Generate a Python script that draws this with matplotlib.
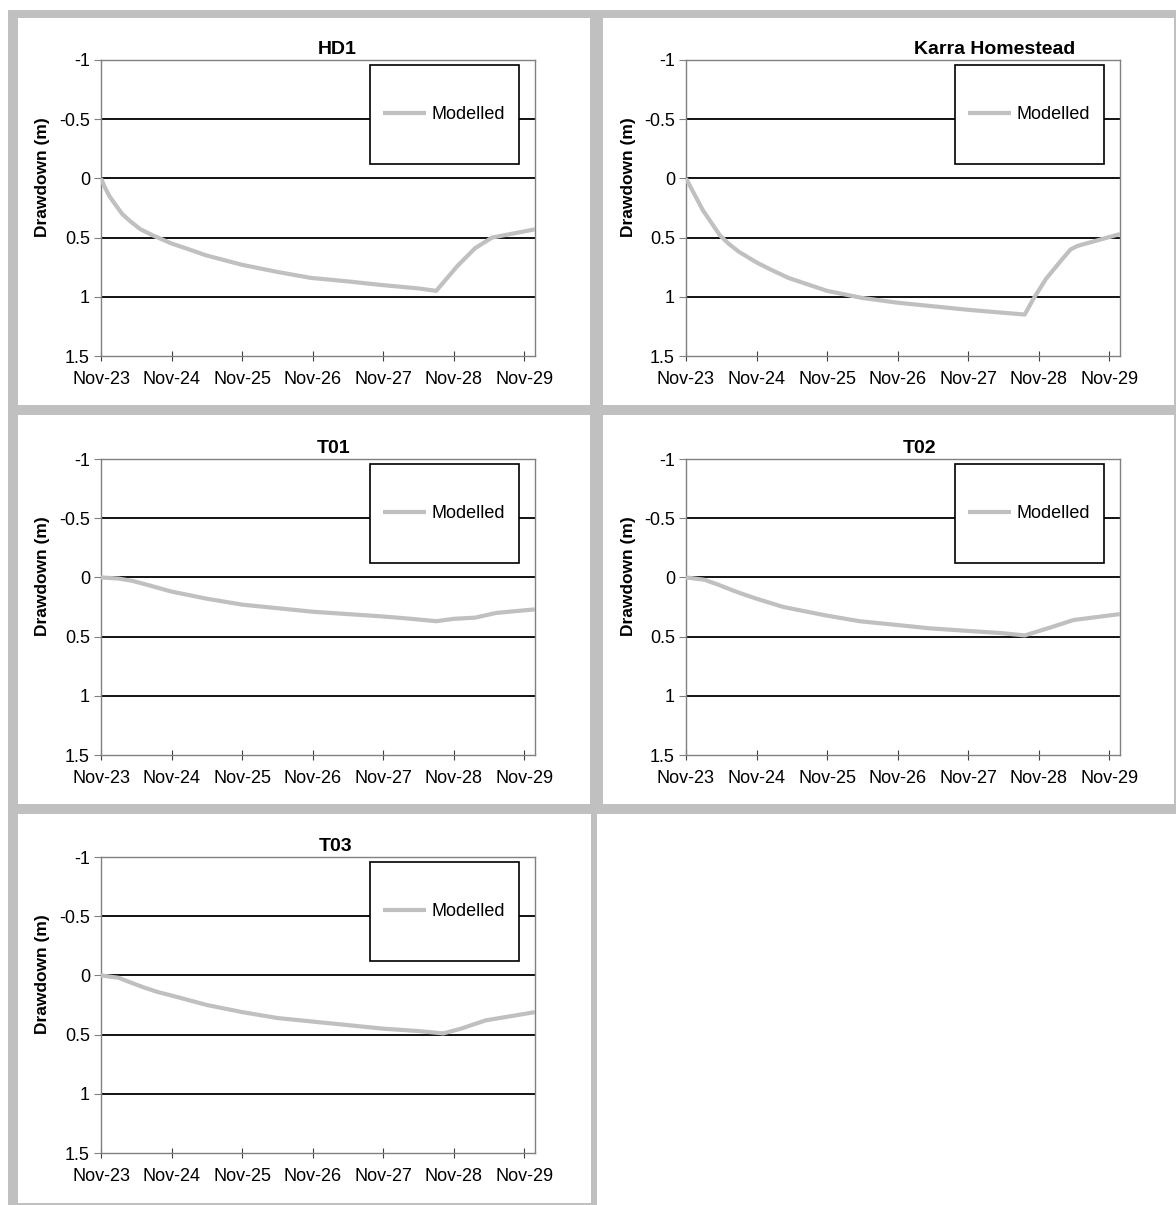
import matplotlib
matplotlib.use("Agg")
import matplotlib.pyplot as plt
from matplotlib.patches import Rectangle

plt.rcParams['font.family'] = ['Liberation Sans', 'DejaVu Sans']

# years since Nov-2023
t_hd1 = [0, 0.05, 0.12, 0.19, 0.3, 0.41, 0.56, 0.73, 1.0, 1.25, 1.49, 2.0, 2.5, 2.97, 3.5, 3.97, 4.51, 4.75, 5.05, 5.3, 5.54, 6.15]
d_hd1 = [0, 0.07, 0.15, 0.21, 0.30, 0.36, 0.43, 0.48, 0.55, 0.60, 0.65, 0.73, 0.79, 0.84, 0.87, 0.90, 0.93, 0.95, 0.74, 0.59, 0.50, 0.43]

t_karra = [0, 0.08, 0.16, 0.24, 0.32, 0.4, 0.48, 0.6, 0.75, 1.0, 1.2, 1.45, 1.7, 2.0, 2.5, 3.0, 3.5, 4.0, 4.4, 4.8, 4.92, 5.1, 5.32, 5.45, 5.55, 6.15]
d_karra = [0, 0.09, 0.18, 0.27, 0.34, 0.41, 0.48, 0.55, 0.62, 0.71, 0.77, 0.84, 0.89, 0.95, 1.01, 1.05, 1.08, 1.11, 1.13, 1.15, 1.02, 0.85, 0.69, 0.60, 0.57, 0.47]

t_t01 = [0, 0.25, 0.45, 0.7, 1.0, 1.25, 1.5, 2.0, 2.5, 3.0, 3.5, 4.0, 4.4, 4.75, 5.0, 5.3, 5.6, 6.15]
d_t01 = [0, 0.01, 0.03, 0.07, 0.12, 0.15, 0.18, 0.23, 0.26, 0.29, 0.31, 0.33, 0.35, 0.37, 0.35, 0.34, 0.30, 0.27]

t_t02 = [0, 0.26, 0.45, 0.62, 0.8, 1.0, 1.38, 1.97, 2.46, 2.96, 3.45, 3.95, 4.46, 4.8, 5.18, 5.49, 6.15]
d_t02 = [0, 0.02, 0.06, 0.10, 0.14, 0.18, 0.25, 0.32, 0.37, 0.40, 0.43, 0.45, 0.47, 0.49, 0.42, 0.36, 0.31]

t_t03 = [0, 0.25, 0.42, 0.6, 0.8, 1.0, 1.5, 2.0, 2.5, 3.0, 3.5, 4.0, 4.5, 4.85, 5.1, 5.45, 6.15]
d_t03 = [0, 0.02, 0.06, 0.10, 0.14, 0.17, 0.25, 0.31, 0.36, 0.39, 0.42, 0.45, 0.47, 0.49, 0.45, 0.38, 0.31]

xticklabels = ['Nov-23', 'Nov-24', 'Nov-25', 'Nov-26', 'Nov-27', 'Nov-28', 'Nov-29']
yticks = [-1, -0.5, 0, 0.5, 1, 1.5]
yticklabels = ['-1', '-0.5', '0', '0.5', '1', '1.5']

W, H = 1176, 1205
GREY = '#c0c0c0'

fig = plt.figure(figsize=(W / 100, H / 100), dpi=100)

def frect(x0, y0, x1, y1, color):
	# rectangle given in pixels from top-left
	fig.patches.append(Rectangle((x0 / W, 1 - y1 / H), (x1 - x0) / W, (y1 - y0) / H,
		transform=fig.transFigure, facecolor=color, edgecolor='none', zorder=0))

frect(8, 10, W, 814, GREY)
frect(8, 814, 597, H, GREY)
frect(18, 18, 590, 405, 'white')
frect(603, 18, 1174, 405, 'white')
frect(18, 415, 590, 804, 'white')
frect(603, 415, 1174, 804, 'white')
frect(18, 814, 591, 1203, 'white')

# name, times, values, axes left px, axes top px, title x fraction
panels = [
	('HD1', t_hd1, d_hd1, 101, 60, 0.544),
	('Karra Homestead', t_karra, d_karra, 686, 60, 0.712),
	('T01', t_t01, d_t01, 101, 459, 0.535),
	('T02', t_t02, d_t02, 686, 459, 0.537),
	('T03', t_t03, d_t03, 101, 857, 0.541),
]
aw, ah = 434, 296

for name, t, d, left, top, tx in panels:
	ax = fig.add_axes([left / W, 1 - (top + ah) / H, aw / W, ah / H])
	ax.set_zorder(2)
	ax.patch.set_alpha(0)
	for y in yticks[:-1]:
		ax.axhline(y, color='black', lw=1.3, zorder=1)
	ax.plot(t, d, color=GREY, lw=3, solid_capstyle='butt', zorder=3, label='Modelled')
	ax.set_xlim(0, 6.15)
	ax.set_ylim(1.5, -1)
	ax.set_xticks(range(7))
	ax.set_xticklabels(xticklabels)
	ax.set_yticks(yticks)
	ax.set_yticklabels(yticklabels)
	for s in ax.spines.values():
		s.set_color('#808080')
		s.set_linewidth(1.0)
	ax.tick_params(axis='y', direction='out', length=5, color='#808080', labelsize=13, pad=3)
	ax.tick_params(axis='x', direction='inout', length=7, color='#404040', labelsize=13, pad=7)
	ax.set_title(name, x=tx, pad=4, fontsize=14, fontweight='bold')

	# legend box
	ax.add_patch(Rectangle((0.62, 0.649), 0.343, 0.334, transform=ax.transAxes,
		facecolor='white', edgecolor='black', lw=1.2, zorder=4))
	leg = ax.legend(loc='center', bbox_to_anchor=(0.79, 0.816), frameon=False,
		fontsize=13, handlelength=2.4, handletextpad=0.3)
	leg.set_zorder(5)

	fig.text((left - 58) / W, 1 - (top + ah / 2 - 31) / H, 'Drawdown (m)', rotation=90,
		ha='center', va='center', fontsize=12.5, fontweight='bold')

fig.savefig('out.png', dpi=100)
